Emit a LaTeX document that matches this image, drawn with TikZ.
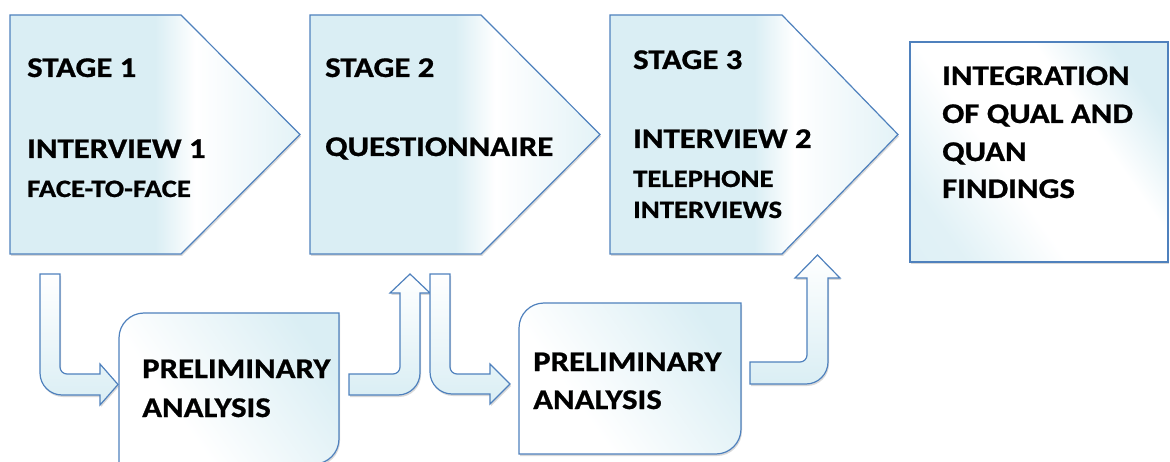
\documentclass[tikz,border=0pt]{standalone}
\usepackage{fontspec}
\setmainfont{Carlito}[FakeStretch=1.15,BoldFeatures={FakeStretch=1.15,FakeBold=0.8}]
\usepackage{tikz}
\usetikzlibrary{shadows}

\definecolor{pale}{RGB}{218,238,244}
\definecolor{edge}{RGB}{79,129,189}
\pgfdeclarehorizontalshading{stagefill}{100bp}{color(0bp)=(pale); color(50bp)=(pale); color(57bp)=(white); color(75bp)=(pale!75!white); color(100bp)=(pale!75!white)}
\pgfdeclarehorizontalshading{boxfill}{100bp}{color(0bp)=(white); color(35bp)=(white); color(75bp)=(pale); color(100bp)=(pale)}
\pgfdeclarehorizontalshading{endfill}{100bp}{color(0bp)=(pale); color(25bp)=(pale!80!white); color(42bp)=(white); color(62bp)=(white); color(75bp)=(pale); color(100bp)=(pale)}

\tikzset{
  outline/.style={draw=edge, line width=1.2pt, line join=miter,
    drop shadow={shadow xshift=1pt, shadow yshift=-2pt, opacity=0.3}},
  stagebox/.style={outline, shading=stagefill},
  prelimbox/.style={outline, shading=boxfill, shading angle=35},
  endbox/.style={outline, shading=endfill, shading angle=35},
  blockarrow/.style={outline, top color=white, bottom color=pale},
  txt/.style={anchor=base west, inner sep=0pt, font=\bfseries\fontsize{28.5}{30}\selectfont},
  subtxt/.style={anchor=base west, inner sep=0pt, font=\bfseries\fontsize{25}{27}\selectfont}
}

\begin{document}
\begin{tikzpicture}[x=1pt,y=1pt,yscale=-1]
\useasboundingbox (0,0) rectangle (1170,462);

%Shape: Pentagon stage 1
\draw[stagebox] (10,15) -- (181,15) -- (300,134.5) -- (181,254) -- (10,254) -- cycle ;
%Shape: Pentagon stage 2
\draw[stagebox] (310,15) -- (481,15) -- (600,134.5) -- (481,254) -- (310,254) -- cycle ;
%Shape: Pentagon stage 3
\draw[stagebox] (610,15) -- (782,15) -- (898,134.5) -- (782,254) -- (610,254) -- cycle ;
%Shape: Rectangle
\draw[endbox] (910,42) rectangle (1168,262) ;

%Shape: Snip Round Rectangle
\draw[prelimbox] (119,464) -- (119,338) arc (180:270:25) -- (339,313) -- (339,439) arc (0:90:25) -- cycle ;
%Shape: Snip Round Rectangle
\draw[prelimbox] (519,454) -- (519,328) arc (180:270:25) -- (741,303) -- (741,429) arc (0:90:25) -- cycle ;

%Shape: Bent Arrow down-right
\draw[blockarrow] (40,274) -- (60,274) -- (60,367) arc (180:90:7) -- (100,374) -- (100,364) -- (118,384.5) -- (100,405) -- (100,395) -- (62,395) arc (90:180:22) -- cycle ;
%Shape: Bent Arrow right-up
\draw[blockarrow] (349,374) -- (393,374) arc (90:0:7) -- (400,293) -- (390,293) -- (410,274) -- (430,293) -- (420,293) -- (420,373) arc (0:90:22) -- (349,395) -- cycle ;
%Shape: Bent Arrow down-right
\draw[blockarrow] (430,274) -- (450,274) -- (450,367) arc (180:90:7) -- (490,374) -- (490,364) -- (510,384) -- (490,404) -- (490,394) -- (452,394) arc (90:180:22) -- cycle ;
%Shape: Bent Arrow right-up
\draw[blockarrow] (750,362) -- (800,362) arc (90:0:7) -- (807,278) -- (795,278) -- (817.5,255) -- (840,278) -- (828,278) -- (828,362) arc (0:90:22) -- (750,384) -- cycle ;

% Text Node
\node[txt] (stageA) at (27,77) {STAGE 1};
% Text Node
\node[txt] (intA) at (27,158) {INTERVIEW 1};
% Text Node
\node[subtxt] (faceA) at (27,197) {FACE-TO-FACE};
% Text Node
\node[txt] (stageB) at (325,77) {STAGE 2};
% Text Node
\node[txt] (quest) at (325,156) {QUESTIONNAIRE};
% Text Node
\node[txt] (stageC) at (633,69) {STAGE 3};
% Text Node
\node[txt] (intC) at (633,148) {INTERVIEW 2};
% Text Node
\node[subtxt] (teleC) at (633,187) {TELEPHONE};
% Text Node
\node[subtxt] (teleD) at (633,218) {INTERVIEWS};
% Text Node
\node[txt] (integA) at (942,85) {INTEGRATION};
% Text Node
\node[txt] (integB) at (942,123) {OF QUAL AND};
% Text Node
\node[txt] (integC) at (942,161) {QUAN};
% Text Node
\node[txt] (integD) at (942,198) {FINDINGS};
% Text Node
\node[txt] (prelA) at (142,378) {PRELIMINARY};
% Text Node
\node[txt] (prelB) at (142,417) {ANALYSIS};
% Text Node
\node[txt] (prelC) at (533,371) {PRELIMINARY};
% Text Node
\node[txt] (prelD) at (533,409) {ANALYSIS};

\end{tikzpicture}
\end{document}
